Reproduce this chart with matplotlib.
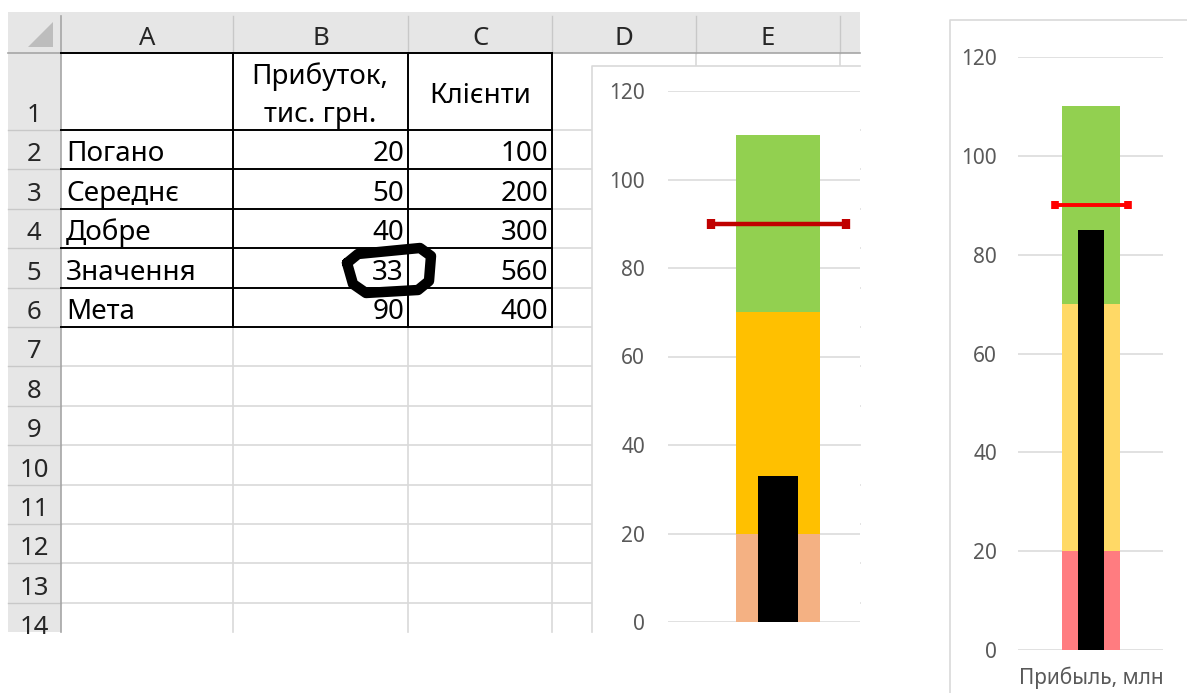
import numpy as np
import matplotlib
matplotlib.use('Agg')
import matplotlib.pyplot as plt
from matplotlib.patches import Rectangle, Polygon

plt.rcParams['font.family'] = ['Noto Sans', 'DejaVu Sans']

# table data (sheet A1:C6)
col_letters = ['A', 'B', 'C', 'D', 'E']
header_b = ['Прибуток,', 'тис. грн.']
header_c = 'Клієнти'
row_labels = ['Погано', 'Середнє', 'Добре', 'Значення', 'Мета']
profit = [20, 50, 40, 33, 90]
clients = [100, 200, 300, 560, 400]

# second chart data
range_values_2 = [20, 50, 40]
actual_2 = 85
target_2 = 90
xlabel_2 = 'Прибыль, млн'

y_ticks = [0, 20, 40, 60, 80, 100, 120]

W, H = 1187, 693
fig = plt.figure(figsize=(W / 100, H / 100), dpi=100)
fig.patch.set_facecolor('white')

# sheet drawn in pixel coordinates
sh = fig.add_axes([0, 0, 1, 1], zorder=0)
sh.set_xlim(0, W)
sh.set_ylim(H, 0)
sh.axis('off')

left, top, right, bottom = 8, 12, 860, 632
hdr_bot, rh_right = 53, 61
col_edges = [61, 233, 408, 552, 696, 840]
row_edges = [53, 130] + [130 + 39.4 * k for k in range(1, 14)]

clip = Rectangle((left, top), right - left, bottom - top, transform=sh.transData)

grid_c = '#D9D9D9'
hdr_c = '#E6E6E6'
txt_fs = 20
# header band + row header column
sh.add_patch(Rectangle((left, top), right - left, hdr_bot - top, color=hdr_c, lw=0))
sh.add_patch(Rectangle((left, hdr_bot), rh_right - left, bottom - hdr_bot, color=hdr_c, lw=0))
sh.add_patch(Polygon([(28, 47), (53, 22), (53, 47)], closed=True, color='#BDBDBD', lw=0))

# cell gridlines
for x in col_edges[1:]:
    sh.plot([x, x], [hdr_bot, bottom], color=grid_c, lw=1.2)
    sh.plot([x, x], [top + 4, hdr_bot], color='#C8C8C8', lw=1)
for y in row_edges[1:]:
    if y < bottom:
        sh.plot([rh_right, right], [y, y], color=grid_c, lw=1.2)
        sh.plot([left, rh_right], [y, y], color='#C8C8C8', lw=1)
sh.plot([left, right], [hdr_bot, hdr_bot], color='#A6A6A6', lw=1.2)
sh.plot([rh_right, rh_right], [top + 4, bottom], color='#A6A6A6', lw=1.2)

# column letters and row numbers
for i, letter in enumerate(col_letters):
    cx = (col_edges[i] + col_edges[i + 1]) / 2
    sh.text(cx, 45, letter, ha='center', va='baseline', fontsize=18.5, color='#262626')
for r in range(1, 15):
    t = sh.text(34, row_edges[r] - 8, str(r), ha='center', va='baseline', fontsize=18.5,
                color='#262626')
    t.set_clip_path(clip)

# table borders A1:C6
tb_bottom = row_edges[6]
for y in row_edges[:7]:
    sh.plot([rh_right, col_edges[3]], [y, y], color='black', lw=1.4)
for x in col_edges[1:4]:
    sh.plot([x, x], [hdr_bot, tb_bottom], color='black', lw=1.4)

# header texts
sh.text(320, 84, header_b[0], ha='center', va='baseline', fontsize=txt_fs)
sh.text(320, 122, header_b[1], ha='center', va='baseline', fontsize=txt_fs)
sh.text(480, 103, header_c, ha='center', va='baseline', fontsize=txt_fs)

for k, (lab, p, c) in enumerate(zip(row_labels, profit, clients)):
    yb = row_edges[k + 2] - 8
    sh.text(66, yb, lab, ha='left', va='baseline', fontsize=txt_fs)
    sh.text(404, yb, str(p), ha='right', va='baseline', fontsize=txt_fs)
    sh.text(548, yb, str(c), ha='right', va='baseline', fontsize=txt_fs)

# hand-drawn circle around the value
scribble = [(347, 263), (358, 254), (420, 248), (431, 256), (429, 281), (418, 290),
            (366, 293), (353, 284), (347, 263)]
sx, sy = zip(*scribble)
sh.plot(sx, sy, color='black', lw=7.5, solid_joinstyle='round', solid_capstyle='round', zorder=5)

# chart areas (white with light border)
sh.add_patch(Rectangle((592, 66), right - 592, bottom - 66 + 2, facecolor='white', lw=0, zorder=6))
sh.plot([592, 592, right], [bottom, 66, 66], color='#D9D9D9', lw=1.2, zorder=7)
sh.add_patch(Rectangle((950, 20), W - 950, H - 20, facecolor='white', lw=0, zorder=6))
sh.plot([950, 950, W], [H, 20, 20], color='#D9D9D9', lw=1.2, zorder=7)


def px_axes(x0, x1, y_top, y_bot):
    return fig.add_axes([x0 / W, (H - y_bot) / H, (x1 - x0) / W, (y_bot - y_top) / H], zorder=2)


def bullet(ax, ranges, colors, actual, target, range_w, actual_w, half_t, t_color, t_lw, cap, cap_t):
    bottoms = np.concatenate([[0], np.cumsum(ranges)[:-1]])
    for val, b, col in zip(ranges, bottoms, colors):
        ax.bar(0, val, bottom=b, width=range_w, color=col, lw=0, zorder=2)
    ax.bar(0, actual, width=actual_w, color='black', lw=0, zorder=3)
    ax.errorbar(0, target, xerr=half_t, fmt='none', ecolor=t_color, elinewidth=t_lw,
                capsize=cap, capthick=cap_t, zorder=4)
    ax.set_ylim(0, 120)
    ax.set_yticks(y_ticks)
    ax.yaxis.grid(True, color='#D9D9D9', lw=1.1)
    ax.set_axisbelow(True)
    for s in ax.spines.values():
        s.set_visible(False)
    ax.set_facecolor('none')


# chart 1: profit bullet
ax1 = px_axes(668, 860, 91, 622)
bullet(ax1, profit[:3], ['#F4B183', '#FFC000', '#92D050'], profit[3], profit[4],
       84, 40, 67.5, '#C00000', 3.2, 3.4, 6)
ax1.set_xlim(-110, 82)
ax1.set_xticks([])
ax1.tick_params(axis='y', length=0, pad=16.5, labelsize=15, labelcolor='#595959')

# chart 2
ax2 = px_axes(1018, 1163, 57, 650)
bullet(ax2, range_values_2, ['#FF7C80', '#FFD966', '#92D050'], actual_2, target_2,
       58, 26, 36.5, '#FF0000', 2.8, 3, 5.5)
ax2.set_xlim(-73, 72)
ax2.set_xticks([0])
ax2.set_xticklabels([xlabel_2])
ax2.tick_params(axis='y', length=0, pad=15, labelsize=15, labelcolor='#595959')
ax2.tick_params(axis='x', length=0, pad=12, labelsize=15, labelcolor='#595959')

fig.savefig('out.png', dpi=100)
